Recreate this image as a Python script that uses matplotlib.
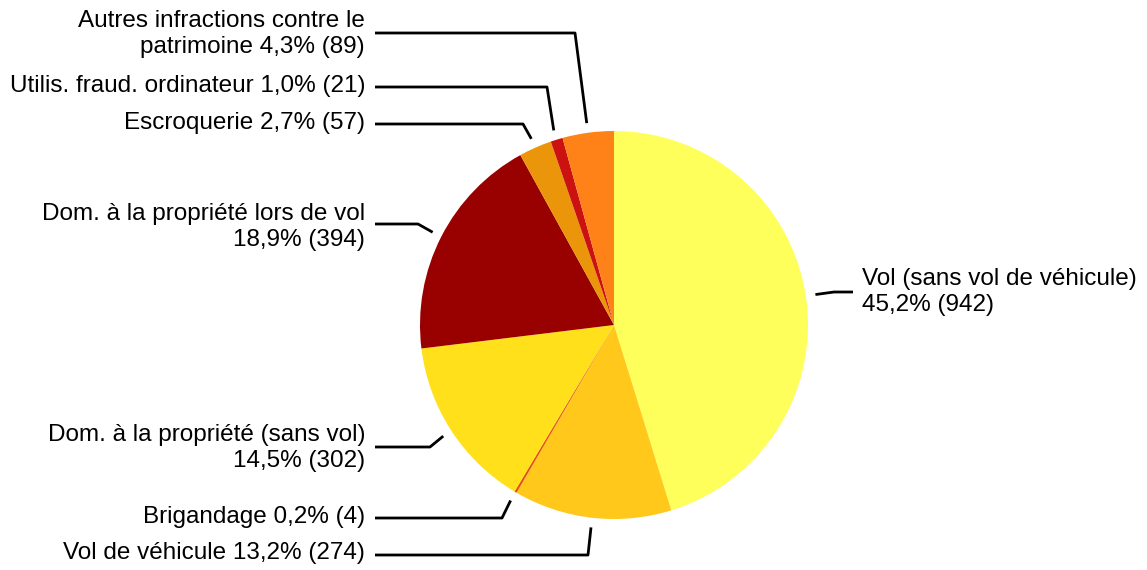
import matplotlib.pyplot as plt
import numpy as np

plt.rcParams['font.family'] = ['Liberation Sans', 'DejaVu Sans']

categories = ['Vol (sans vol de véhicule)', 'Vol de véhicule', 'Brigandage',
              'Dom. à la propriété (sans vol)', 'Dom. à la propriété lors de vol',
              'Escroquerie', 'Utilis. fraud. ordinateur',
              'Autres infractions contre le\npatrimoine']
counts = [942, 274, 4, 302, 394, 57, 21, 89]
colors = ['#FFFF5C', '#FFC81A', '#E6500A', '#FFE01A', '#990000',
          '#EB960A', '#CC1111', '#FF8219']
# separator between name and "xx,x% (n)"
seps = ['\n', ' ', ' ', '\n', '\n', ' ', ' ', ' ']

# layout in pixel coords (y down): label anchor, elbow point
label_pos = [(862, 292), (365, 553), (365, 517), (365, 448), (365, 227),
             (365, 123), (365, 86), (365, 34)]
elbow = [(834, 292), (588, 555), (502, 518), (430, 447), (418, 224),
         (523, 124), (547, 87), (575, 33)]

W, H = 1147, 570
cx, cy, r = 614, 325, 194

fig = plt.figure(figsize=(W / 100, H / 100), dpi=100)
ax = fig.add_axes([0, 0, 1, 1])

total = sum(counts)
ax.pie(counts, colors=colors, startangle=-90, counterclock=True,
       center=(cx, cy), radius=r, wedgeprops=dict(linewidth=0))
ax.set_xlim(0, W)
ax.set_ylim(H, 0)
ax.axis('off')

cum = 0
for i, v in enumerate(counts):
    mid = np.deg2rad(-90 + 360 * (cum + v / 2) / total)
    cum += v
    px, py = cx + 1.05 * r * np.cos(mid), cy + 1.05 * r * np.sin(mid)
    ex, ey = elbow[i]
    tx, ty = label_pos[i]
    if tx > cx:
        hx, ha = tx - 9, 'left'
    else:
        hx, ha = tx + 10, 'right'
    ax.plot([px, ex, hx], [py, ey, ey], color='black', lw=2, solid_capstyle='butt')
    pct = f'{100 * v / total:.1f}'.replace('.', ',')
    text = f'{categories[i]}{seps[i]}{pct}% ({v})'
    ax.text(tx, ty, text, ha=ha, va='center', multialignment=ha,
            fontsize=17.5, linespacing=1.25)

fig.savefig('out.png', dpi=100)
